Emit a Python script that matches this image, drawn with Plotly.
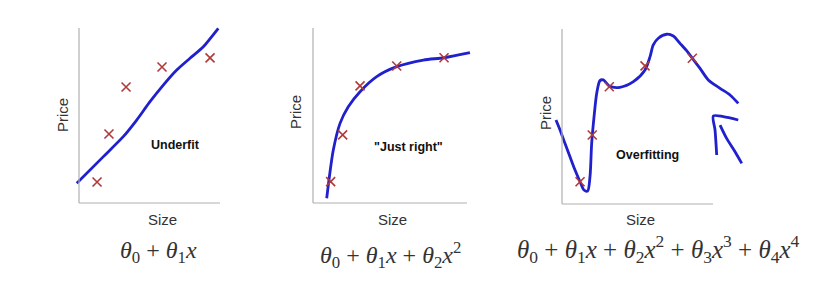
import plotly.graph_objects as go

W, H = 825, 302

# ---- data (Size, Price in arbitrary units) ----
p1_size = [1.29, 2.14, 3.36, 5.93, 9.36]
p1_price = [1.20, 3.94, 6.63, 7.77, 8.29]
p1_fit_x = [-0.16, 1.74, 3.16, 4.12, 5.07, 6.02, 6.98, 7.93, 8.88, 9.95]
p1_fit_y = [1.13, 2.65, 3.79, 4.74, 5.79, 6.74, 7.60, 8.27, 8.93, 9.98]

p2_size = [1.26, 2.12, 3.36, 5.98, 9.36]
p2_price = [1.22, 3.89, 6.69, 7.83, 8.30]
p2_fit_x = [0.98, 1.17, 1.45, 1.93, 2.52, 3.36, 4.55, 5.98, 7.88, 9.36, 11.21]
p2_fit_y = [0.27, 1.50, 3.03, 4.55, 5.50, 6.36, 7.22, 7.79, 8.17, 8.30, 8.59]

p3_size = [1.29, 2.16, 3.38, 5.93, 9.31]
p3_price = [1.27, 3.94, 6.70, 7.89, 8.33]
p3_fit_x = [-0.43, -0.14, 0.21, 0.57, 0.93, 1.29, 1.57, 1.83, 2.00, 2.12, 2.29, 2.48,
            2.71, 2.95, 3.38, 4.14, 5.10, 5.93, 6.29, 6.52, 6.88, 7.48, 7.95, 8.43,
            8.90, 9.31, 9.86, 10.45, 11.29, 12.00, 12.59]
p3_fit_y = [4.80, 4.23, 3.47, 2.70, 1.94, 1.27, 0.80, 0.74, 1.56, 3.47, 4.99, 6.33,
            7.05, 7.09, 6.74, 6.67, 6.99, 7.66, 8.42, 9.09, 9.47, 9.70, 9.60, 9.18,
            8.76, 8.33, 7.75, 7.09, 6.61, 6.23, 5.75]
arrow_a_x = [12.59, 11.52, 10.81, 10.93, 11.05]
arrow_a_y = [4.80, 4.99, 5.03, 4.23, 2.80]
arrow_b_x = [11.29, 11.76, 12.36, 12.84]
arrow_b_y = [4.51, 3.75, 2.99, 2.32]

axis_len_x = [10.07, 11.0, 10.79]
axis_len_y = 10.0

panel_labels = ["Underfit", "\"Just right\"", "Overfitting"]
formulas = [
    "<i>θ</i><sub>0</sub> + <i>θ</i><sub>1</sub><i>x</i>",
    "<i>θ</i><sub>0</sub> + <i>θ</i><sub>1</sub><i>x</i> + <i>θ</i><sub>2</sub><i>x</i><sup>2</sup>",
    "<i>θ</i><sub>0</sub> + <i>θ</i><sub>1</sub><i>x</i> + <i>θ</i><sub>2</sub><i>x</i><sup>2</sup>"
    " + <i>θ</i><sub>3</sub><i>x</i><sup>3</sup> + <i>θ</i><sub>4</sub><i>x</i><sup>4</sup>",
]

# ---- layout geometry (pixels) ----
corners = [(79, 203), (313, 203), (562, 204)]
SX, SY = 14.0, 17.5   # px per unit
LPAD, RPAD, BPAD, TPAD = 20, 190, 10, 185

BLUE = "#2020cc"
RED = "#b03a3a"
GRAY = "#b0b0b0"
SANS = "Liberation Sans"

fig = go.Figure()
layout = dict(width=W, height=H, margin=dict(l=0, r=0, t=0, b=0),
              paper_bgcolor="white", plot_bgcolor="white", showlegend=False)

panels = [
    (p1_size, p1_price, [(p1_fit_x, p1_fit_y)], 0.6),
    (p2_size, p2_price, [(p2_fit_x, p2_fit_y)], 0.8),
    (p3_size, p3_price, [(p3_fit_x, p3_fit_y), (arrow_a_x, arrow_a_y), (arrow_b_x, arrow_b_y)], 0.8),
]

shapes = []
for i, (sx, sy, curves, sm) in enumerate(panels):
    n = "" if i == 0 else str(i + 1)
    cx, cy = corners[i]
    xd = [(cx - LPAD) / W, (cx + RPAD) / W]
    yd = [(H - (cy + BPAD)) / H, (H - (cy - TPAD)) / H]
    layout["xaxis" + n] = dict(domain=xd, range=[-LPAD / SX, RPAD / SX], visible=False,
                               anchor="y" + n, fixedrange=True)
    layout["yaxis" + n] = dict(domain=yd, range=[-BPAD / SY, TPAD / SY], visible=False,
                               anchor="x" + n, fixedrange=True)
    xr, yr = "x" + n, "y" + n
    shapes.append(dict(type="line", xref=xr, yref=yr, x0=0, y0=0, x1=0, y1=axis_len_y,
                       line=dict(color=GRAY, width=1.2)))
    shapes.append(dict(type="line", xref=xr, yref=yr, x0=0, y0=0, x1=axis_len_x[i], y1=0,
                       line=dict(color=GRAY, width=1.2)))
    for (fx, fy) in curves:
        fig.add_trace(go.Scatter(x=fx, y=fy, mode="lines", xaxis=xr, yaxis=yr,
                                 line=dict(color=BLUE, width=2.8, shape="spline", smoothing=sm),
                                 hoverinfo="skip"))
    fig.add_trace(go.Scatter(x=sx, y=sy, mode="markers", xaxis=xr, yaxis=yr,
                             marker=dict(symbol="x-thin", size=9,
                                         line=dict(color=RED, width=1.6)),
                             hoverinfo="skip"))

layout["shapes"] = shapes

ann = []
def pa(text, px, py, size, font=SANS, color="#222", angle=0):
    ann.append(dict(text=text, x=px / W, y=1 - py / H, xref="paper", yref="paper",
                    xanchor="center", yanchor="middle", showarrow=False, textangle=angle,
                    font=dict(family=font, size=size, color=color)))

price_pos = [(62, 115), (295, 112), (545, 113)]
size_pos = [(162, 220), (392, 220), (640, 220)]
label_pos = [(175, 145), (408, 147), (647, 155)]
formula_pos = [(158, 252), (390, 255), (658, 249)]
formula_size = [24, 24, 25]
for i in range(3):
    pa("Price", *price_pos[i], 15, angle=-90, color="#333")
    pa("Size", *size_pos[i], 15, color="#333")
    pa("<b>" + panel_labels[i] + "</b>", *label_pos[i], 12.5, color="#111")
    pa(formulas[i], *formula_pos[i], formula_size[i], font="Liberation Serif", color="#333")

layout["annotations"] = ann
fig.update_layout(**layout)
fig.write_html("out.html")
